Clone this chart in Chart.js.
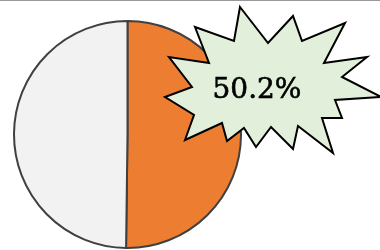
<!DOCTYPE html>
<html>
<head>
<meta charset="utf-8">
<script src="https://cdn.jsdelivr.net/npm/chart.js@4"></script>
<style>
  html, body { margin: 0; padding: 0; background: #fff; }
  #wrap { width: 380px; height: 250px; position: relative; }
</style>
</head>
<body>
<div id="wrap"><canvas id="pieChart" width="380" height="250"></canvas></div>
<script>
const categories = ['Share', 'Rest'];
const shareValues = [50.2, 49.8];
const sliceColors = ['#ED7D31', '#F2F2F2'];

// callout burst outline (pixels on the canvas)
const burstPoints = [
    [240, 7], [268, 43], [293, 16], [302, 41], [345, 23], [324, 63],
    [367, 57], [342, 77], [381, 97], [335, 100], [342, 118], [322, 118],
    [333, 153], [298, 126], [293, 149], [271, 127], [256, 147], [244, 128],
    [227, 141], [222, 123], [185, 140], [194, 115], [165, 97], [192, 87],
    [169, 57], [209, 63], [195, 27], [234, 41]
];

const ctx = document.getElementById('pieChart').getContext('2d');

const burstPlugin = {
    id: 'burst',
    afterDraw(chart) {
        const c = chart.ctx;
        c.save();
        // top frame line
        c.strokeStyle = '#999';
        c.lineWidth = 1;
        c.beginPath();
        c.moveTo(0, 0.5);
        c.lineTo(380, 0.5);
        c.stroke();

        c.beginPath();
        burstPoints.forEach(function (p, i) {
            if (i === 0) c.moveTo(p[0], p[1]);
            else c.lineTo(p[0], p[1]);
        });
        c.closePath();
        c.fillStyle = '#E2EFDA';
        c.fill();
        c.lineWidth = 2;
        c.lineJoin = 'miter';
        c.strokeStyle = '#000';
        c.stroke();

        const total = shareValues.reduce((a, b) => a + b, 0);
        const label = (shareValues[0] / total * 100).toFixed(1) + '%';
        c.fillStyle = '#000';
        c.font = '28px "DejaVu Serif", serif';
        c.textAlign = 'center';
        c.textBaseline = 'alphabetic';
        c.fillText(label, 257, 98);
        c.lineWidth = 0.6;
        c.strokeStyle = '#000';
        c.strokeText(label, 257, 98);
        c.restore();
    }
};

const pieChart = new Chart(ctx, {
    type: 'pie',
    data: {
        labels: categories,
        datasets: [{
            data: shareValues,
            backgroundColor: sliceColors,
            borderColor: '#404040',
            borderWidth: 2
        }]
    },
    options: {
        responsive: false,
        animation: false,
        layout: {
            padding: { left: 13, top: 20, right: 138, bottom: 1 }
        },
        plugins: {
            legend: { display: false },
            tooltip: { enabled: false }
        }
    },
    plugins: [burstPlugin]
});
</script>
</body>
</html>
